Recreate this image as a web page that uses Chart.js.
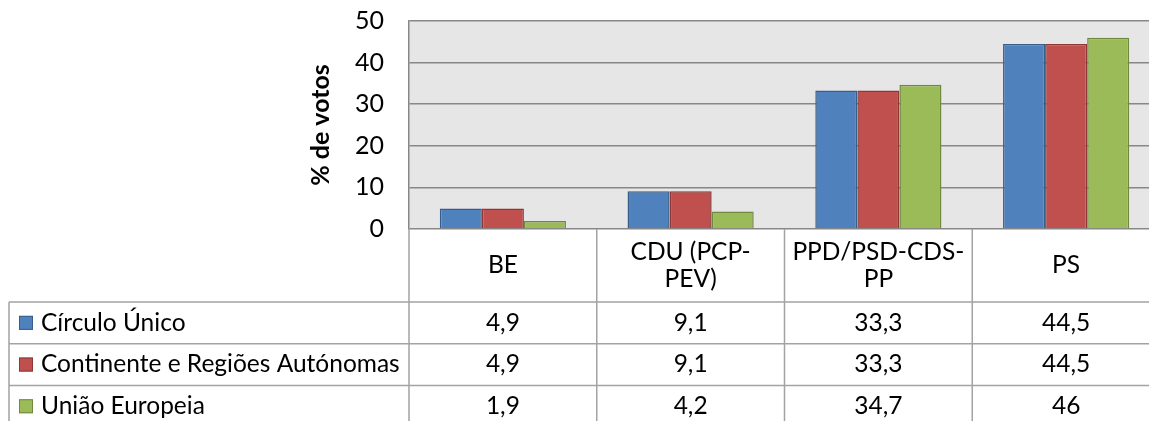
<!DOCTYPE html>
<html>
<head>
<meta charset="utf-8">
<script src="https://cdn.jsdelivr.net/npm/chart.js@4/dist/chart.umd.min.js"></script>
<style>
  html, body { margin: 0; padding: 0; background: #fff; overflow: hidden; }
  #wrap { width: 1160px; height: 421px; }
</style>
</head>
<body>
<div id="wrap"><canvas id="plot" width="1160" height="421"></canvas></div>
<script>
// category labels, as they wrap in the table header
const partidos = [['BE'], ['CDU (PCP-', 'PEV)'], ['PPD/PSD-CDS-', 'PP'], ['PS']];
const seriesNames = ['Círculo Único', 'Continente e Regiões Autónomas', 'União Europeia'];
const circuloUnico = [4.9, 9.1, 33.3, 44.5];
const continenteRegioes = [4.9, 9.1, 33.3, 44.5];
const uniaoEuropeia = [1.9, 4.2, 34.7, 46];
const yTicks = [0, 10, 20, 30, 40, 50];
const yTitle = '% de votos';

const fills = ['#4f81bd', '#c0504d', '#9bbb59'];
const borders = ['#385d8a', '#8c3836', '#71893f'];
const FONT = 'Lato, "Open Sans", sans-serif';
const lineCol = '#a3a3a3';

const allSeries = [circuloUnico, continenteRegioes, uniaoEuropeia];

function fmt(v) {
  return String(v).replace('.', ',');
}

// grey plot background
const plotBg = {
  id: 'plotBg',
  beforeDraw(chart) {
    const a = chart.chartArea;
    const ctx = chart.ctx;
    ctx.save();
    ctx.fillStyle = '#e6e6e6';
    ctx.fillRect(a.left, a.top, a.right - a.left, a.bottom - a.top);
    ctx.restore();
  }
};

// axis title + data table under the plot
const dataTable = {
  id: 'dataTable',
  afterDraw(chart) {
    const ctx = chart.ctx;
    const a = chart.chartArea;
    const x = chart.scales.x;
    const W = chart.width, H = chart.height;
    const step = x.getPixelForValue(1) - x.getPixelForValue(0);
    const headBottom = a.bottom + 73;
    const rowH = 41.7;
    const legendLeft = 9;

    ctx.save();
    // y axis title
    ctx.translate(321, (a.top + a.bottom) / 2);
    ctx.rotate(-Math.PI / 2);
    ctx.font = 'bold 25px ' + FONT;
    ctx.fillStyle = '#000';
    ctx.textAlign = 'center';
    ctx.textBaseline = 'middle';
    ctx.fillText(yTitle, 0, 0);
    ctx.restore();

    ctx.save();
    ctx.strokeStyle = lineCol;
    ctx.lineWidth = 1.5;
    ctx.beginPath();
    // horizontal lines
    for (let r = 0; r < seriesNames.length; r++) {
      const y = headBottom + r * rowH;
      ctx.moveTo(legendLeft, y);
      ctx.lineTo(W, y);
    }
    // left border of legend column
    ctx.moveTo(legendLeft, headBottom);
    ctx.lineTo(legendLeft, H);
    // category dividers
    for (let i = 0; i <= partidos.length; i++) {
      const xx = x.getPixelForValue(i) - step / 2;
      ctx.moveTo(xx, a.bottom);
      ctx.lineTo(xx, H);
    }
    ctx.stroke();

    ctx.fillStyle = '#000';
    ctx.font = '24.5px ' + FONT;
    ctx.textAlign = 'center';
    ctx.textBaseline = 'middle';
    // header labels
    const headMid = (a.bottom + headBottom) / 2;
    partidos.forEach((lines, i) => {
      const cx = x.getPixelForValue(i);
      lines.forEach((t, k) => {
        ctx.fillText(t, cx, headMid + (k - (lines.length - 1) / 2) * 27);
      });
    });
    // rows
    seriesNames.forEach((name, r) => {
      const cy = headBottom + r * rowH + rowH / 2;
      ctx.fillStyle = fills[r];
      ctx.fillRect(19, cy - 7, 14, 14);
      ctx.strokeStyle = borders[r];
      ctx.lineWidth = 1;
      ctx.strokeRect(19.5, cy - 6.5, 13, 13);
      ctx.fillStyle = '#000';
      ctx.textAlign = 'left';
      ctx.fillText(name, 41, cy);
      ctx.textAlign = 'center';
      allSeries[r].forEach((v, i) => {
        ctx.fillText(fmt(v), x.getPixelForValue(i), cy);
      });
    });
    ctx.restore();
  }
};

new Chart(document.getElementById('plot').getContext('2d'), {
  type: 'bar',
  data: {
    labels: partidos.map(p => p.join(' ')),
    datasets: seriesNames.map((name, i) => ({
      label: name,
      data: allSeries[i],
      backgroundColor: fills[i],
      borderColor: borders[i],
      borderWidth: 1.5,
      categoryPercentage: 0.672,
      barPercentage: 1
    }))
  },
  options: {
    responsive: false,
    animation: false,
    layout: { padding: { left: 0, right: 0, top: 21, bottom: 192 } },
    plugins: { legend: { display: false }, tooltip: { enabled: false } },
    scales: {
      x: { display: false },
      y: {
        min: 0,
        max: 50,
        afterFit: s => { s.width = 409; s.paddingTop = 0; s.paddingBottom = 0; },
        afterBuildTicks: s => { s.ticks = yTicks.map(v => ({ value: v })); },
        ticks: {
          padding: 25,
          color: '#000',
          font: { family: FONT, size: 25 }
        },
        grid: { color: '#878787', lineWidth: 1.5, drawTicks: false },
        border: { display: true, color: '#878787', width: 1.5 }
      }
    }
  },
  plugins: [plotBg, dataTable]
});
</script>
</body>
</html>
